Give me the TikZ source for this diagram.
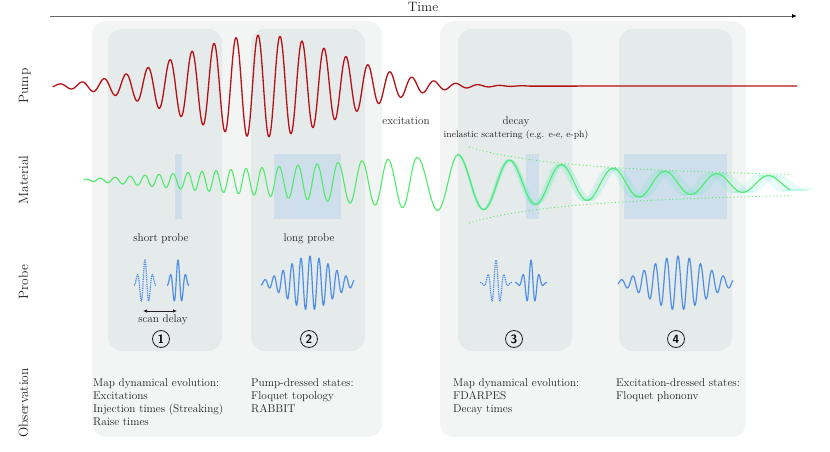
\documentclass[tikz,border=0pt]{standalone}
\usetikzlibrary{arrows.meta}
\definecolor{outerbg}{HTML}{F3F5F4}
\definecolor{innerbg}{HTML}{E5EAEA}
\definecolor{winblue}{HTML}{CFDEEB}
\definecolor{pumpred}{HTML}{B31217}
\definecolor{matgreen}{HTML}{4FEC6C}
\definecolor{bundlec}{HTML}{6FEAD0}
\definecolor{probeblue}{HTML}{4F8FE6}
\definecolor{txt}{HTML}{222222}
\definecolor{axisgray}{HTML}{666666}
\begin{document}
\begin{tikzpicture}[x=1pt,y=-1pt,
  declare function={
    ga(\t)=0.0755*(\t-74);
    gc(\t)=180+(\t-84)*0.00936;
    da(\t)=29*exp(-(\t-458)/240);
  },
  outerbox/.style={fill=outerbg, rounded corners=14pt},
  innerbox/.style={fill=innerbg, rounded corners=14pt},
  winbox/.style={fill=winblue},
  rowlabel/.style={rotate=90, anchor=base, inner sep=0, text=txt, font=\fontsize{13.5}{16}\selectfont},
  lbl/.style={inner sep=0, text=txt, anchor=base, font=\fontsize{11.2}{13}\selectfont},
  smalllbl/.style={inner sep=0, text=txt, anchor=base, font=\fontsize{9.4}{11}\selectfont},
  obs/.style={inner sep=0, text=txt, anchor=base west, font=\fontsize{11.3}{13}\selectfont},
  circnum/.style={circle, draw=txt, line width=0.8pt, minimum size=17pt, inner sep=0, text=black, font=\sffamily\bfseries\fontsize{12}{12}\selectfont},
  pumpline/.style={pumpred, line width=1.3pt, line join=round, line cap=round},
  matline/.style={matgreen, line width=1.1pt, line join=round, line cap=round},
  bundleline/.style={bundlec, line width=1.4pt, opacity=0.13},
  envdot/.style={matgreen, line width=0.9pt, dash pattern=on 1pt off 2.6pt},
  probeline/.style={probeblue, line width=1.2pt, line join=round},
  probedash/.style={probeblue, line width=1.2pt, dash pattern=on 1.3pt off 0.9pt},
]
\useasboundingbox (0,0) rectangle (830,452);

% background boxes
\fill[outerbox] (92,21) rectangle (382,437);
\fill[outerbox] (440,21) rectangle (746,437);
\fill[innerbox] (108,29) rectangle (222,351);
\fill[innerbox] (251,29) rectangle (365,351);
\fill[innerbox] (458,29) rectangle (572,351);
\fill[innerbox] (619,29) rectangle (732,351);

% probe windows
\fill[winbox] (175,154) rectangle (182,219);
\fill[winbox] (274,154) rectangle (341,219);
\fill[winbox] (526,154) rectangle (539,219);
\fill[winbox] (624,154) rectangle (727,219);

% time axis
\coordinate (t0) at (50,16);
\coordinate (t1) at (797,16);
\draw[axisgray, line width=0.9pt, -{Latex[length=5pt,width=4pt,color=black]}] (t0) -- (t1);
\node[lbl, font=\fontsize{13.6}{16}\selectfont] (time) at (423,11.7) {Time};

% row labels
\node[rowlabel] (lpump) at (28,86) {Pump};
\node[rowlabel] (lmat) at (28,180) {Material};
\node[rowlabel] (lprobe) at (28,282) {Probe};
\node[rowlabel] (lobs) at (28,403) {Observation};

% pump
\draw[pumpline] plot[domain=53:530, samples=800] (\x,{86-51*exp(-((\x-262)/113.14)^2)*cos(16.3636*(\x-104))}) -- (797,86);

% material: dephasing bundle
\foreach \d in {-0.036,-0.030,...,0.037}
  \draw[bundleline] plot[domain=0:6.62, samples=200] ({458+51.8*(1+\d)*\x},{183.5-da(458+51.8*(1+\d)*\x)*cos(360*\x)});
% envelope
\draw[envdot] plot[domain=469:790, samples=60] (\x,{185-4712/(\x-345)});
\draw[envdot] plot[domain=469:790, samples=60] (\x,{185+4712/(\x-345)});
% growing part
\draw[matline] (84,180) \foreach \a/\b in {86/100,100/115,115/130,130/145,145/159,159/173,173/188,188/202,202/216,216/231,231/246,246/262,262/279,279/298,298/317,317/338,338/362,362/388,388/417,417/458} { -- plot[domain=0:1, samples=18] ({\a+\x*(\b-\a)},{gc(\a+\x*(\b-\a))-ga(\a+\x*(\b-\a))*cos(360*\x)}) };
% decaying part
\draw[matline] plot[domain=0:6.41, samples=220] ({458+51.8*\x},{183.5-da(458+51.8*\x)*cos(360*\x)});

% annotations
\node[lbl] (exc) at (406,124.3) {excitation};
\node[lbl] (dec) at (516,124.3) {decay};
\node[smalllbl] (inel) at (516,137.3) {inelastic scattering (e.g. e-e, e-ph)};

\node[lbl] (sp) at (161,241) {short probe};
\node[lbl] (lp) at (309,241) {long probe};

% probe pulses
\draw[probedash] plot[domain=-11:11, samples=120] ({145+\x},{283-23*exp(-(\x/7.5)^2)*cos((\x/7.7)*360)});
\draw[probeline] plot[domain=-11:11, samples=120] ({178+\x},{283-23*exp(-(\x/7.5)^2)*cos((\x/7.7)*360)});
\draw[probeline] plot[domain=-49:44, samples=300] ({310+\x},{283-27*exp(-(\x/31)^2)*cos((\x/9)*360)});
\draw[probedash] plot[domain=-16:16, samples=150] ({496+\x},{283-23*exp(-(\x/8)^2)*cos((\x/8.2)*360)});
\draw[probeline] plot[domain=-16:16, samples=150] ({531+\x},{283-23*exp(-(\x/8)^2)*cos((\x/8.2)*360)});
\draw[probeline] plot[domain=-60:55, samples=320] ({678+\x},{283-27*exp(-(\x/39)^2)*cos((\x/11.3)*360)});

% scan delay
\coordinate (sd1) at (143,311);
\coordinate (sd2) at (177,311);
\draw[txt, line width=0.8pt, {Latex[length=4pt,width=3.5pt]}-{Latex[length=4pt,width=3.5pt]}] (sd1) -- (sd2);
\node[lbl] (scan) at (163,322) {scan delay};

% numbers
\node[circnum] (n1) at (161,339) {1};
\node[circnum] (n2) at (309,339) {2};
\node[circnum] (n3) at (514,339) {3};
\node[circnum] (n4) at (676,339) {4};

% observations
\node[obs] (o11) at (93,386) {Map dynamical evolution:};
\node[obs] (o12) at (93,399.3) {Excitations};
\node[obs] (o13) at (93,412.6) {Injection times (Streaking)};
\node[obs] (o14) at (93,425.9) {Raise times};
\node[obs] (o21) at (251,386) {Pump-dressed states:};
\node[obs] (o22) at (251,399.3) {Floquet topology};
\node[obs] (o23) at (251,412.6) {RABBIT};
\node[obs] (o31) at (453,386) {Map dynamical evolution:};
\node[obs] (o32) at (453,399.3) {FDARPES};
\node[obs] (o33) at (453,412.6) {Decay times};
\node[obs] (o41) at (616,386) {Excitation-dressed states:};
\node[obs] (o42) at (616,399.3) {Floquet phononv};
\end{tikzpicture}
\end{document}
